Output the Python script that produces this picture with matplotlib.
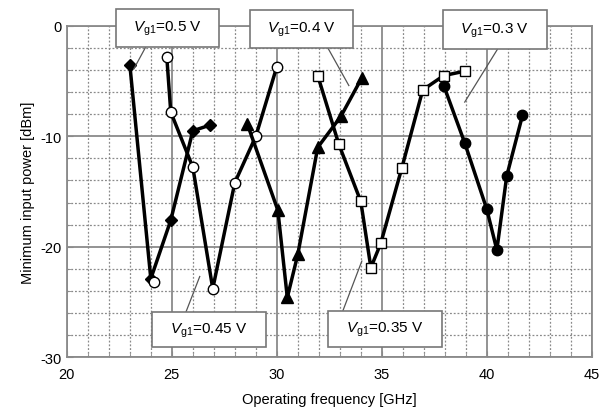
import numpy as np
import matplotlib
matplotlib.use("Agg")
import matplotlib.pyplot as plt
from matplotlib.patches import Rectangle
from matplotlib.ticker import MultipleLocator

plt.rcParams['font.family'] = ['Liberation Sans', 'DejaVu Sans']
plt.rcParams['mathtext.fontset'] = 'custom'
plt.rcParams['mathtext.rm'] = 'Liberation Sans'
plt.rcParams['mathtext.it'] = 'Liberation Sans:italic'
plt.rcParams['axes.unicode_minus'] = False

# Vg1 = 0.5 V (filled diamonds)
f_050 = [23.0, 24.0, 24.95, 26.0, 26.8]
p_050 = [-3.5, -22.9, -17.6, -9.5, -9.0]

# Vg1 = 0.45 V (open circles)
f_045 = [24.76, 24.95, 26.0, 26.95, 28.0, 29.0, 30.0]
p_045 = [-2.8, -7.8, -12.8, -23.8, -14.2, -10.0, -3.7]
f_045_extra = [24.15]
p_045_extra = [-23.2]

# Vg1 = 0.4 V (filled triangles)
f_040 = [28.6, 30.05, 30.5, 31.0, 31.95, 33.05, 34.05]
p_040 = [-8.9, -16.7, -24.6, -20.7, -11.0, -8.2, -4.7]

# Vg1 = 0.35 V (open squares)
f_035 = [31.95, 32.95, 34.0, 34.48, 34.95, 35.95, 36.95, 37.95, 38.95]
p_035 = [-4.5, -10.7, -15.9, -21.9, -19.7, -12.9, -5.8, -4.5, -4.1]

# Vg1 = 0.3 V (filled circles)
f_030 = [37.95, 38.95, 40.0, 40.48, 40.95, 41.7]
p_030 = [-5.4, -10.6, -16.6, -20.3, -13.6, -8.1]

fig = plt.figure(figsize=(6.02, 4.14), dpi=100)
ax = fig.add_axes([0.111, 0.135, 0.872, 0.8])

ax.set_xlim(20, 45)
ax.set_ylim(-30, 0)
ax.xaxis.set_major_locator(MultipleLocator(5))
ax.xaxis.set_minor_locator(MultipleLocator(1))
ax.yaxis.set_major_locator(MultipleLocator(10))
ax.yaxis.set_minor_locator(MultipleLocator(2))

grid_c = '#8a8a8a'
ax.grid(which='major', color=grid_c, linewidth=1.3, linestyle='-')
ax.grid(which='minor', color=grid_c, linewidth=0.9, linestyle=(0, (1.5, 1.5)))
ax.set_axisbelow(True)
for spine in ax.spines.values():
    spine.set_edgecolor(grid_c)
    spine.set_linewidth(1.3)
ax.tick_params(which='both', direction='in', color=grid_c, labelsize=10.5)
ax.tick_params(which='major', length=4)
ax.tick_params(which='minor', length=3)
ax.tick_params(axis='x', pad=7)

lw = 2.5
ax.plot(f_050, p_050, color='black', lw=lw, marker='D', ms=6, mfc='black', mec='black', zorder=3)
ax.plot(f_045, p_045, color='black', lw=lw, marker='o', ms=7.5, mfc='white', mec='black', mew=1.0, zorder=3)
ax.plot(f_045_extra, p_045_extra, ls='none', marker='o', ms=7.5, mfc='white', mec='black', mew=1.0, zorder=4)
ax.plot(f_040, p_040, color='black', lw=lw, marker='^', ms=8, mfc='black', mec='black', zorder=3)
ax.plot(f_035, p_035, color='black', lw=lw, marker='s', ms=7.5, mfc='white', mec='black', mew=1.0, zorder=3)
ax.plot(f_030, p_030, color='black', lw=lw, marker='o', ms=7.5, mfc='black', mec='black', zorder=3)

ax.set_xlabel('Operating frequency [GHz]', fontsize=10.5, labelpad=8)
ax.set_ylabel('Minimum input power [dBm]', fontsize=10.5, labelpad=4)

# label boxes: (text, x0, x1, y0, y1, leader start, leader end)
labels = [
    ('0.5', 22.33, 27.24, -1.90, 1.54, (23.76, -1.9), (23.19, -3.9)),
    ('0.4', 28.71, 33.62, -1.99, 1.45, (32.43, -1.99), (33.43, -5.4)),
    ('0.3', 37.90, 42.86, -2.08, 1.45, (40.52, -2.08), (38.95, -6.9)),
    ('0.45', 24.05, 29.48, -29.1, -25.93, (25.67, -25.93), (26.33, -22.7)),
    ('0.35', 32.43, 37.86, -29.1, -25.84, (33.14, -25.84), (34.05, -21.3)),
]
for txt, x0, x1, y0, y1, s, e in labels:
    ax.plot([s[0], e[0]], [s[1], e[1]], color='#555555', lw=0.9, zorder=5, clip_on=False)
    ax.add_patch(Rectangle((x0, y0), x1 - x0, y1 - y0, facecolor='white',
                           edgecolor='#777777', lw=1.2, zorder=6, clip_on=False))
    ax.text((x0 + x1) / 2, (y0 + y1) / 2, r'$V_{\mathrm{g1}}$=' + txt + ' V',
            ha='center', va='center', fontsize=11, zorder=7)

fig.savefig('out.png', dpi=100)
